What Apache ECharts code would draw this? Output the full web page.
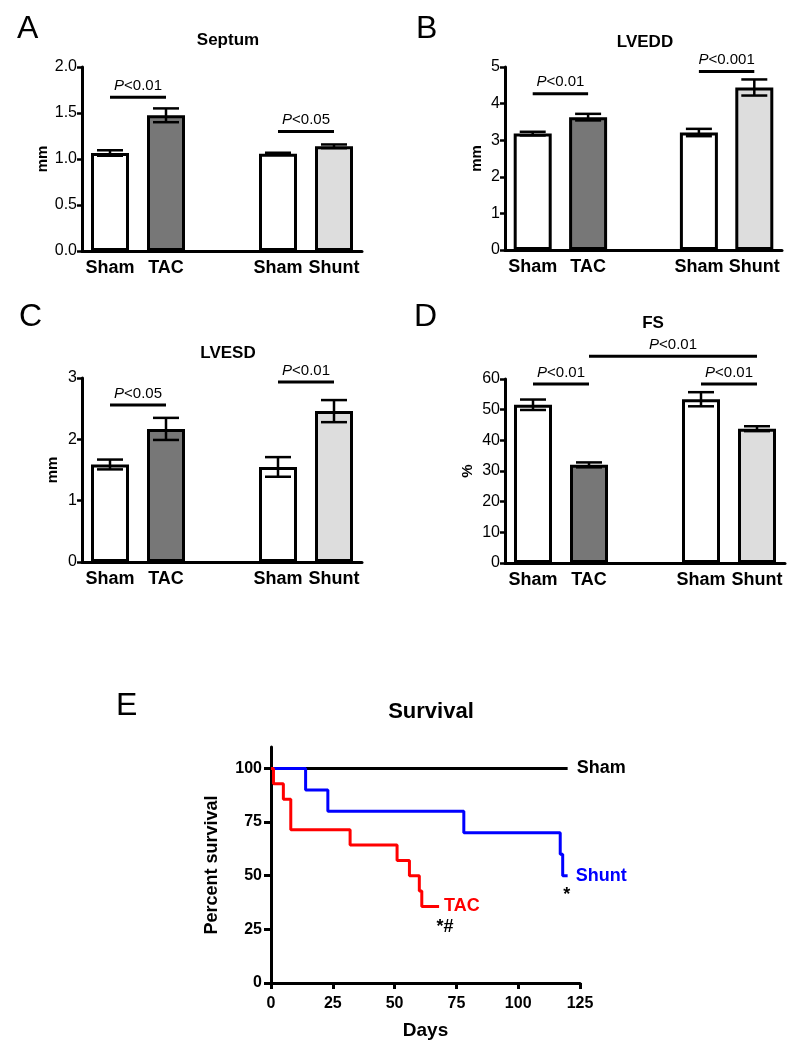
<!DOCTYPE html>
<html>
<head>
<meta charset="utf-8">
<script src="https://cdn.jsdelivr.net/npm/echarts@6/dist/echarts.min.js"></script>
<style>html,body{margin:0;padding:0;background:#fff}#c{width:800px;height:1047px}</style>
</head>
<body>
<div id="c"></div>
<script>
// ---------- DATA ----------
const categories = ['Sham', 'TAC', '', 'Sham', 'Shunt'];
const barColors = ['#ffffff', '#777777', '#ffffff', '#ffffff', '#dddddd'];

const septumMean = [1.065, 1.475, null, 1.058, 1.138];
const septumSem  = [0.03, 0.075, null, 0.01, 0.02];
const lveddMean  = [3.18, 3.63, null, 3.21, 4.44];
const lveddSem   = [0.05, 0.09, null, 0.10, 0.22];
const lvesdMean  = [1.59, 2.17, null, 1.55, 2.46];
const lvesdSem   = [0.08, 0.18, null, 0.16, 0.18];
const fsMean     = [51.6, 32.0, null, 53.4, 43.8];
const fsSem      = [1.7, 0.8, null, 2.3, 0.8];

// significance brackets: [fromCategory, toCategory, yValue]
const septumSig = [[0, 1, 1.67], [3, 4, 1.30]];
const septumSigText = ['0.01', '0.05'];
const lveddSig = [[0, 1, 4.27], [3, 4, 4.88]];
const lveddSigText = ['0.01', '0.001'];
const lvesdSig = [[0, 1, 2.56], [3, 4, 2.935]];
const lvesdSigText = ['0.05', '0.01'];
const fsSig = [[0, 1, 58.4], [1, 4, 67.4], [3, 4, 58.4]];
const fsSigText = ['0.01', '0.01', '0.01'];

// survival (days, percent)
const shamSurv  = [[0, 100], [120, 100]];
const shuntSurv = [[0, 100], [14, 90], [23, 80], [78, 70], [117, 60], [118, 50], [120, 50]];
const tacSurv   = [[0, 100], [1, 92.9], [5, 85.7], [8, 71.4], [32, 64.3], [51, 57.1], [56, 50], [60, 42.9], [61, 35.7], [68, 35.7]];
const survTicks = [0, 25, 50, 75, 100];

// ---------- OPTIONS ----------
const FONT = '"Liberation Sans", Arial, Helvetica, sans-serif';
const chart = echarts.init(document.getElementById('c'));

const panels = [
  {title: 'Septum', mean: septumMean, sem: septumSem, sig: septumSig, sigText: septumSigText,
   min: 0, max: 2, interval: 0.5, dec: 1, name: 'mm', nameGap: 31,
   grid: {left: 82, top: 67, width: 280, height: 184}, tx: 223, ty: 27},
  {title: 'LVEDD', mean: lveddMean, sem: lveddSem, sig: lveddSig, sigText: lveddSigText,
   min: 0, max: 5, interval: 1, dec: 0, name: 'mm', nameGap: 21,
   grid: {left: 505, top: 67, width: 277, height: 183}, tx: 640, ty: 29},
  {title: 'LVESD', mean: lvesdMean, sem: lvesdSem, sig: lvesdSig, sigText: lvesdSigText,
   min: 0, max: 3, interval: 1, dec: 0, name: 'mm', nameGap: 22,
   grid: {left: 82, top: 378, width: 280, height: 184}, tx: 223, ty: 340},
  {title: 'FS', mean: fsMean, sem: fsSem, sig: fsSig, sigText: fsSigText,
   min: 0, max: 60, interval: 10, dec: 0, name: '%', nameGap: 30,
   grid: {left: 505, top: 379, width: 280, height: 184}, tx: 648, ty: 310}
];

const grid = [], xAxis = [], yAxis = [], series = [], title = [];

panels.forEach((p, k) => {
  grid.push(p.grid);
  title.push({text: p.title, left: p.tx, top: p.ty, textAlign: 'center',
    textStyle: {fontFamily: FONT, fontSize: 17, fontWeight: 'bold', color: '#000'}});
  xAxis.push({type: 'category', gridIndex: k, data: categories,
    axisLine: {lineStyle: {color: '#000', width: 3}}, axisTick: {show: false},
    axisLabel: {color: '#000', fontFamily: FONT, fontSize: 18, fontWeight: 'bold', margin: 8, interval: 0}});
  yAxis.push({type: 'value', gridIndex: k, min: p.min, max: p.max, interval: p.interval,
    name: p.name, nameLocation: 'middle', nameGap: p.nameGap, nameRotate: 90,
    nameTextStyle: {fontFamily: FONT, fontSize: 15, fontWeight: 'bold', color: '#000'},
    axisLine: {show: true, lineStyle: {color: '#000', width: 3}},
    axisTick: {show: true, length: 5, lineStyle: {color: '#000', width: 2.5}},
    splitLine: {show: false},
    axisLabel: {color: '#000', fontFamily: FONT, fontSize: 16, margin: 5,
      formatter: v => v.toFixed(p.dec)}});
  series.push({type: 'bar', xAxisIndex: k, yAxisIndex: k, barWidth: 38,
    data: p.mean.map((v, i) => v == null ? '-' : {value: v, itemStyle: {color: barColors[i]}}),
    itemStyle: {borderColor: '#000', borderWidth: 3}, silent: true, z: 2});
  const errData = [];
  p.mean.forEach((m, i) => { if (m != null) errData.push([i, m - p.sem[i], m + p.sem[i]]); });
  series.push({type: 'custom', xAxisIndex: k, yAxisIndex: k, z: 5, silent: true,
    encode: {x: 0, y: [1, 2]}, data: errData,
    renderItem: (params, api) => {
      const x = api.value(0);
      const lo = api.coord([x, api.value(1)]);
      const hi = api.coord([x, api.value(2)]);
      const hw = 13;
      const st = {stroke: '#000', lineWidth: 2.5};
      return {type: 'group', children: [
        {type: 'line', shape: {x1: lo[0], y1: lo[1], x2: hi[0], y2: hi[1]}, style: st},
        {type: 'line', shape: {x1: lo[0] - hw, y1: lo[1], x2: lo[0] + hw, y2: lo[1]}, style: st},
        {type: 'line', shape: {x1: hi[0] - hw, y1: hi[1], x2: hi[0] + hw, y2: hi[1]}, style: st}
      ]};
    }});
  series.push({type: 'custom', xAxisIndex: k, yAxisIndex: k, z: 5, silent: true, clip: false,
    encode: {x: [0, 1], y: 2}, data: p.sig,
    renderItem: (params, api) => {
      const a = api.coord([api.value(0), api.value(2)]);
      const b = api.coord([api.value(1), api.value(2)]);
      return {type: 'group', children: [
        {type: 'line', shape: {x1: a[0], y1: a[1], x2: b[0], y2: b[1]}, style: {stroke: '#000', lineWidth: 3}},
        {type: 'text', x: (a[0] + b[0]) / 2, y: a[1] - 4,
          style: {text: '{i|P}<' + p.sigText[params.dataIndex],
            rich: {i: {fontStyle: 'italic', fontFamily: FONT, fontSize: 15, fill: '#000'}},
            fontFamily: FONT, fontSize: 15, fill: '#000', align: 'center', verticalAlign: 'bottom'}}
      ]};
    }});
});

// survival panel
const E = 4;
grid.push({left: 271, top: 747, width: 309, height: 236});
title.push({text: 'Survival', left: 426, top: 696, textAlign: 'center',
  textStyle: {fontFamily: FONT, fontSize: 22, fontWeight: 'bold', color: '#000'}});
xAxis.push({type: 'value', gridIndex: E, min: 0, max: 125, interval: 25,
  name: 'Days', nameLocation: 'middle', nameGap: 38,
  nameTextStyle: {fontFamily: FONT, fontSize: 19, fontWeight: 'bold', color: '#000'},
  axisLine: {lineStyle: {color: '#000', width: 3}},
  axisTick: {show: true, length: 6, lineStyle: {color: '#000', width: 3}},
  splitLine: {show: false},
  axisLabel: {color: '#000', fontFamily: FONT, fontSize: 16, fontWeight: 'bold', margin: 13}});
yAxis.push({type: 'value', gridIndex: E, min: 0, max: 110,
  name: 'Percent survival', nameLocation: 'middle', nameGap: 50, nameRotate: 90,
  nameTextStyle: {fontFamily: FONT, fontSize: 18, fontWeight: 'bold', color: '#000'},
  axisLine: {show: true, lineStyle: {color: '#000', width: 3}},
  axisTick: {show: true, length: 7, lineStyle: {color: '#000', width: 3}, customValues: survTicks},
  splitLine: {show: false},
  axisLabel: {color: '#000', fontFamily: FONT, fontSize: 16, fontWeight: 'bold', margin: 9, customValues: survTicks}});

function survSeries(name, data, color, labelDist, mark) {
  const s = {type: 'line', name: name, xAxisIndex: E, yAxisIndex: E, data: data, step: 'end',
    symbol: 'none', lineStyle: {color: color, width: 3}, itemStyle: {color: color}, silent: true,
    endLabel: {show: true, formatter: name, color: color, fontFamily: FONT, fontSize: 18,
      fontWeight: 'bold', distance: labelDist}};
  if (mark) {
    s.markPoint = {symbol: 'circle', symbolSize: 0, silent: true,
      data: [{coord: data[data.length - 1],
        label: {show: true, formatter: mark.text, position: 'inside', offset: mark.offset,
          color: '#000', fontFamily: FONT, fontSize: 18, fontWeight: 'bold'}}]};
  }
  return s;
}
series.push(survSeries('Sham', shamSurv, '#000000', 9));
series.push(survSeries('Shunt', shuntSurv, '#0000ff', 8, {text: '*', offset: [-1, 19]}));
series.push(survSeries('TAC', tacSurv, '#ff0000', 5, {text: '*#', offset: [6, 21]}));

const letterStyle = {fontFamily: FONT, fontSize: 32, fill: '#000', verticalAlign: 'middle'};
const graphic = [
  {type: 'text', left: 17, top: 13, style: Object.assign({text: 'A'}, letterStyle)},
  {type: 'text', left: 416, top: 13, style: Object.assign({text: 'B'}, letterStyle)},
  {type: 'text', left: 19, top: 301, style: Object.assign({text: 'C'}, letterStyle)},
  {type: 'text', left: 414, top: 301, style: Object.assign({text: 'D'}, letterStyle)},
  {type: 'text', left: 116, top: 690, style: Object.assign({text: 'E'}, letterStyle)}
];

chart.setOption({animation: false, backgroundColor: '#fff', title, grid, xAxis, yAxis, series, graphic});
</script>
</body>
</html>
